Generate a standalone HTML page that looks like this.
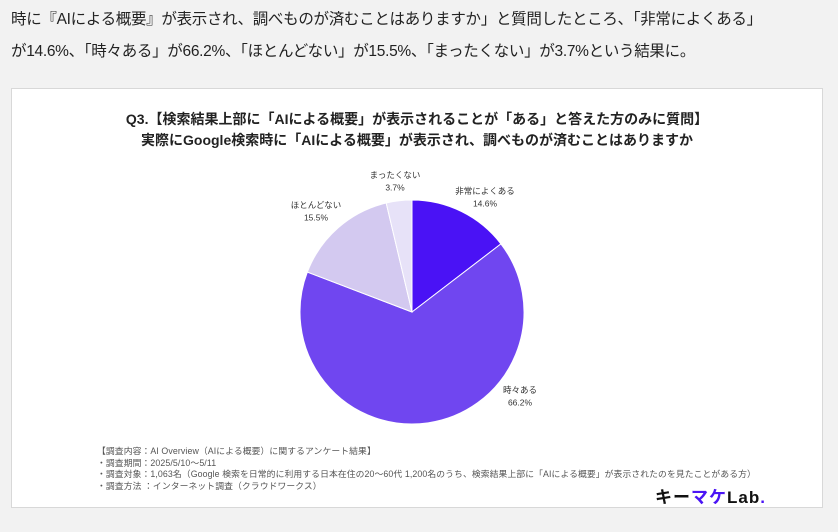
<!DOCTYPE html>
<html><head><meta charset="utf-8"><style>
body{margin:0;width:838px;height:532px;background:#f2f2f2;font-family:"Liberation Sans","Noto Sans CJK JP",sans-serif;overflow:hidden;position:relative}
.intro{position:absolute;left:11px;top:4px;font-size:15.5px;line-height:32px;color:#222;letter-spacing:-0.3px}
.card{position:absolute;left:11px;top:88px;width:810px;height:418px;background:#fff;border:1px solid #d8d8d8}
.title{position:absolute;left:0;width:810px;top:20px;text-align:center;font-weight:bold;font-size:14px;line-height:21px;color:#222}
.notes{position:absolute;left:85px;top:357px;font-size:8.8px;line-height:11.5px;color:#555;letter-spacing:0.1px;white-space:nowrap}
.logo{position:absolute;left:643px;top:394px;font-size:17px;font-weight:bold;color:#111;letter-spacing:1px}
</style></head><body>
<div class="intro">時に『AIによる概要』が表示され、調べものが済むことはありますか」と質問したところ、「非常によくある」<br>が14.6%、「時々ある」が66.2%、「ほとんどない」が15.5%、「まったくない」が3.7%という結果に。</div>
<div class="card">
<div class="title">Q3.【検索結果上部に「AIによる概要」が表示されることが「ある」と答えた方のみに質問】<br>実際にGoogle検索時に「AIによる概要」が表示され、調べものが済むことはありますか</div>
<svg id="pie" width="810" height="418" style="position:absolute;left:0;top:0"></svg>
<div class="notes">【調査内容：AI Overview（AIによる概要）に関するアンケート結果】<br>・調査期間：2025/5/10〜5/11<br>・調査対象：1,063名（Google 検索を日常的に利用する日本在住の20〜60代 1,200名のうち、検索結果上部に「AIによる概要」が表示されたのを見たことがある方）<br>・調査方法 ：インターネット調査（クラウドワークス）</div>
<div class="logo">キー<span style="color:#4a14f5">マケ</span>Lab<span style="color:#4a14f5">.</span></div>
</div>
<script>
const categories=["非常によくある","時々ある","ほとんどない","まったくない"];
const values=[14.6,66.2,15.5,3.7];
const labels=["14.6%","66.2%","15.5%","3.7%"];
const colors=["#4a12f5","#7046f0","#d3c9f0","#e7e2f8"];
const labelAnchors=[[473,105],[508,304],[304,119],[383,89]];
const svg=document.getElementById('pie');
const NS="http://www.w3.org/2000/svg";
const cx=400,cy=223,r=112;
const total=values.reduce((a,b)=>a+b,0);
let a0=0;
function pt(a,rr){return [cx+rr*Math.sin(a),cy-rr*Math.cos(a)];}
values.forEach((v,i)=>{
  const a1=a0+v/total*2*Math.PI;
  const p0=pt(a0,r),p1=pt(a1,r);
  const large=(a1-a0)>Math.PI?1:0;
  const path=document.createElementNS(NS,'path');
  path.setAttribute('d',`M${cx},${cy} L${p0[0]},${p0[1]} A${r},${r} 0 ${large} 1 ${p1[0]},${p1[1]} Z`);
  path.setAttribute('fill',colors[i]);
  path.setAttribute('stroke','#fff');
  path.setAttribute('stroke-width','1');
  
  
  svg.appendChild(path);
  const lp=labelAnchors[i];
  const t=document.createElementNS(NS,'text');
  t.setAttribute('x',lp[0]);t.setAttribute('y',lp[1]);
  t.setAttribute('text-anchor','middle');t.setAttribute('font-size','8.5');t.setAttribute('fill','#333');
  t.textContent=categories[i];
  
  
  svg.appendChild(t);
  const t2=document.createElementNS(NS,'text');
  t2.setAttribute('x',lp[0]);t2.setAttribute('y',lp[1]+12.5);
  t2.setAttribute('text-anchor','middle');t2.setAttribute('font-size','8.5');t2.setAttribute('fill','#333');
  t2.textContent=labels[i];
  
  
  svg.appendChild(t2);
  a0=a1;
});
</script>
</body></html>
